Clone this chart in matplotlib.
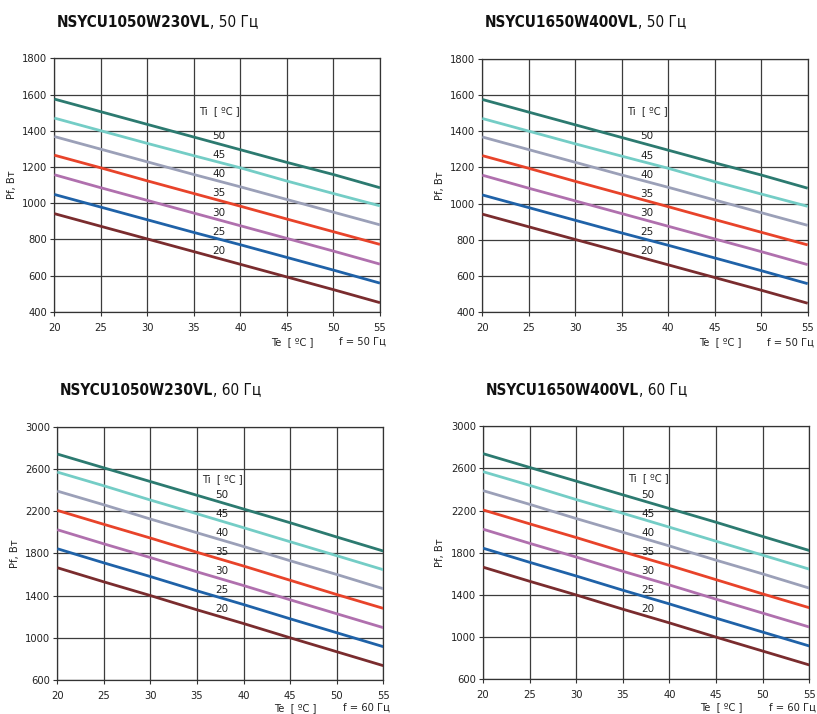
import matplotlib
matplotlib.use("Agg")
import matplotlib.pyplot as plt
import numpy as np

te = [20, 25, 30, 35, 40, 45, 50, 55]
ti_levels = [50, 45, 40, 35, 30, 25, 20]

pf_50hz = {
    50: [1575, 1505, 1435, 1365, 1295, 1225, 1158, 1085],
    45: [1470, 1400, 1330, 1262, 1195, 1122, 1053, 985],
    40: [1368, 1298, 1228, 1158, 1090, 1020, 950, 880],
    35: [1265, 1195, 1123, 1053, 983, 912, 842, 772],
    30: [1157, 1085, 1015, 945, 875, 805, 735, 663],
    25: [1048, 978, 908, 838, 770, 700, 630, 558],
    20: [942, 872, 802, 732, 662, 592, 522, 450],
}
pf_60hz = {
    50: [2741, 2610, 2480, 2350, 2220, 2090, 1955, 1822],
    45: [2570, 2440, 2305, 2175, 2043, 1910, 1778, 1645],
    40: [2390, 2260, 2125, 1995, 1865, 1730, 1600, 1465],
    35: [2207, 2075, 1945, 1810, 1680, 1545, 1410, 1279],
    30: [2024, 1890, 1760, 1625, 1495, 1360, 1228, 1096],
    25: [1844, 1710, 1580, 1445, 1315, 1180, 1048, 916],
    20: [1664, 1530, 1400, 1265, 1135, 1000, 868, 736],
}
colors = {50: "#2c7a70", 45: "#74cdc6", 40: "#9ba0b8", 35: "#e8432a",
          30: "#b070ae", 25: "#1f62a8", 20: "#7a2c2e"}

models = ["NSYCU1050W230VL", "NSYCU1650W400VL"]
freqs = ["50", "60"]

fig = plt.figure(figsize=(8.17, 7.14), dpi=100)

panels = [
    ([0.0665, 0.5634, 0.3986, 0.3549], models[0], freqs[0], pf_50hz, (400, 1800),
     np.arange(400, 1801, 200), 1511, [1371, 1264, 1159, 1054, 947, 842, 737], -0.118),
    ([0.5903, 0.5626, 0.3983, 0.3552], models[1], freqs[0], pf_50hz, (400, 1800),
     np.arange(400, 1801, 200), 1511, [1371, 1264, 1159, 1054, 947, 842, 737], -0.118),
    ([0.0701, 0.0476, 0.3990, 0.3548], models[0], freqs[1], pf_60hz, (600, 3000),
     np.arange(600, 3001, 400), 2507, [2353, 2169, 1989, 1809, 1629, 1449, 1269], -0.11),
    ([0.5912, 0.0486, 0.3994, 0.3543], models[1], freqs[1], pf_60hz, (600, 3000),
     np.arange(600, 3001, 400), 2507, [2353, 2169, 1989, 1809, 1629, 1449, 1269], -0.11),
]

title_family = ["DejaVu Sans", "Liberation Sans"]

for rect, model, fq, data, ylim, yticks, ti_y, lab_ys, te_y in panels:
    ax = fig.add_axes(rect)
    ax.set_xlim(20, 55)
    ax.set_ylim(*ylim)
    ax.set_xticks(te)
    ax.set_yticks(yticks)
    ax.tick_params(labelsize=7.2, length=3, width=0.8, color="#333333",
                   labelcolor="#222222", pad=2)
    ax.tick_params(axis="x", pad=5)
    ax.grid(True, color="#3c3c3c", linewidth=0.9)
    ax.set_axisbelow(True)
    for s in ax.spines.values():
        s.set_color("#333333")
        s.set_linewidth(0.9)
    for ti in ti_levels:
        ax.plot(te, data[ti], color=colors[ti], linewidth=2.0, solid_capstyle="butt", zorder=3)
    ax.text(35.6, ti_y, "Ti  [ ºC ]", fontsize=7.2, color="#222222", va="center", ha="left", zorder=4)
    for ti, yv in zip(ti_levels, lab_ys):
        ax.text(37.0, yv, str(ti), fontsize=7.5, color="#222222", va="center", ha="left", zorder=4)
    ax.set_ylabel("Pf, Вт", fontsize=7.2, color="#222222", labelpad=4)
    ax.text(0.73, te_y, "Te  [ ºC ]", transform=ax.transAxes, fontsize=7.2,
            color="#222222", ha="center", va="center")
    ax.text(1.02, te_y, f"f = {fq} Гц", transform=ax.transAxes, fontsize=7.2,
            color="#222222", ha="right", va="center")
    x0 = rect[0] + 0.003
    ytop = rect[1] + rect[3] + 0.05
    t1 = fig.text(x0, ytop, model, fontsize=11, fontweight="bold", fontstretch="condensed",
                  family=title_family, color="#111111", va="center")
    fig.canvas.draw()
    bb = t1.get_window_extent()
    x1 = bb.x1 / fig.bbox.width
    fig.text(x1, ytop, f", {fq} Гц", fontsize=11, fontstretch="condensed",
             family=title_family, color="#111111", va="center")

fig.savefig("out.png", dpi=100)
